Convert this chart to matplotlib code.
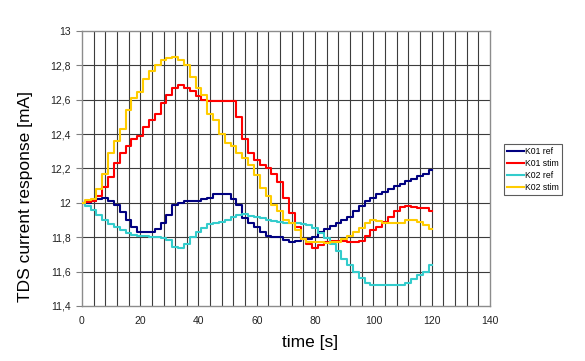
import matplotlib
matplotlib.use("Agg")
import matplotlib.pyplot as plt
import numpy as np

plt.rcParams["font.family"] = ["Liberation Sans", "DejaVu Sans"]

# time axis, 2 s sampling
time_s = np.arange(0, 121, 2)

k01_ref = [12.00, 12.00, 12.01, 12.025, 12.03, 12.01, 11.985, 11.945, 11.90, 11.86,
           11.83, 11.83, 11.83, 11.85, 11.88, 11.93, 11.99, 12.00, 12.01, 12.01,
           12.01, 12.02, 12.03, 12.05, 12.05, 12.05, 12.02, 11.99, 11.91, 11.88,
           11.86, 11.83, 11.81, 11.80, 11.80, 11.785, 11.77, 11.78, 11.79, 11.79,
           11.80, 11.83, 11.85, 11.865, 11.88, 11.90, 11.92, 11.95, 11.98, 12.01,
           12.03, 12.05, 12.065, 12.08, 12.10, 12.11, 12.125, 12.14, 12.155, 12.17,
           12.19]
k01_stim = [12.00, 12.005, 12.01, 12.04, 12.09, 12.15, 12.23, 12.29, 12.33, 12.37,
            12.39, 12.44, 12.48, 12.52, 12.58, 12.63, 12.67, 12.685, 12.67, 12.65,
            12.62, 12.60, 12.595, 12.59, 12.59, 12.595, 12.595, 12.50, 12.37, 12.29,
            12.25, 12.22, 12.20, 12.17, 12.12, 12.03, 11.94, 11.86, 11.79, 11.76,
            11.74, 11.755, 11.77, 11.78, 11.78, 11.78, 11.77, 11.77, 11.78, 11.81,
            11.84, 11.86, 11.89, 11.92, 11.95, 11.975, 11.98, 11.975, 11.97, 11.97,
            11.95]
k02_ref = [12.00, 11.98, 11.96, 11.93, 11.90, 11.875, 11.86, 11.845, 11.825, 11.815,
           11.81, 11.805, 11.80, 11.80, 11.795, 11.785, 11.745, 11.74, 11.76, 11.80,
           11.83, 11.855, 11.875, 11.885, 11.89, 11.90, 11.92, 11.93, 11.935, 11.925,
           11.92, 11.91, 11.90, 11.895, 11.89, 11.885, 11.88, 11.88, 11.875, 11.87,
           11.855, 11.825, 11.795, 11.76, 11.72, 11.675, 11.64, 11.60, 11.565, 11.535,
           11.52, 11.52, 11.52, 11.52, 11.52, 11.525, 11.535, 11.555, 11.58, 11.60,
           11.64]
k02_stim = [12.00, 12.015, 12.02, 12.08, 12.17, 12.29, 12.36, 12.43, 12.54, 12.61,
            12.645, 12.72, 12.77, 12.80, 12.83, 12.845, 12.85, 12.83, 12.80, 12.73,
            12.67, 12.63, 12.52, 12.48, 12.40, 12.35, 12.33, 12.29, 12.26, 12.22,
            12.16, 12.085, 12.04, 11.99, 11.95, 11.90, 11.88, 11.84, 11.79, 11.775,
            11.775, 11.77, 11.765, 11.77, 11.775, 11.79, 11.805, 11.83, 11.855, 11.885,
            11.90, 11.895, 11.885, 11.88, 11.88, 11.885, 11.90, 11.90, 11.89, 11.87,
            11.85]

series_names = ["K01 ref", "K01 stim", "K02 ref", "K02 stim"]
series_colors = ["#000080", "#ff0000", "#33cccc", "#ffcc00"]

x_ticks = [0, 20, 40, 60, 80, 100, 120, 140]
y_ticks = [11.4, 11.6, 11.8, 12.0, 12.2, 12.4, 12.6, 12.8, 13.0]
y_tick_labels = ["11,4", "11,6", "11,8", "12", "12,2", "12,4", "12,6", "12,8", "13"]

fig = plt.figure(figsize=(5.85, 3.61), dpi=100)
ax = fig.add_axes([0.140, 0.1524, 0.6976, 0.7617])

# grid: vertical every 4 s, horizontal every 0.2 mA
for xv in np.arange(4, 140, 4):
    ax.axvline(xv, color="#3c3c3c", lw=0.8, zorder=1)
for yv in y_ticks[1:-1]:
    ax.axhline(yv, color="#3c3c3c", lw=0.8, zorder=1)

# measured signal is stepped, keep that look
for vals, name, col in zip([k01_ref, k01_stim, k02_ref, k02_stim], series_names, series_colors):
    ax.plot(time_s, vals, color=col, lw=1.5, label=name, drawstyle="steps-mid", zorder=3)

ax.set_xlim(0, 140)
ax.set_ylim(11.4, 13)
ax.set_xticks(x_ticks)
ax.set_yticks(y_ticks)
ax.set_yticklabels(y_tick_labels)
ax.tick_params(axis="x", length=0, pad=7, labelsize=7.5, colors="#222222")
ax.tick_params(axis="y", length=4, width=0.8, pad=4, labelsize=7.5, colors="#222222")
ax.tick_params(axis="y", color="#808080")
for sp in ax.spines.values():
    sp.set_color("#8c8c8c")
    sp.set_linewidth(1)

fig.text(310 / 585, 1 - 343 / 361, "time [s]", ha="center", va="center", fontsize=12.5)
fig.text(26 / 585, 1 - 197 / 361, "TDS current response [mA]", ha="center", va="center",
         rotation=90, fontsize=12.5)

leg = fig.legend(loc="upper left", bbox_to_anchor=(504 / 585, 1 - 144 / 361),
                 fontsize=6.2, handlelength=2.0, handletextpad=0.1, borderpad=0.35,
                 labelspacing=0.35, fancybox=False, frameon=True, borderaxespad=0)
leg.get_frame().set_edgecolor("#333333")
leg.get_frame().set_linewidth(0.8)

fig.savefig("out.png", dpi=100, facecolor="white")
